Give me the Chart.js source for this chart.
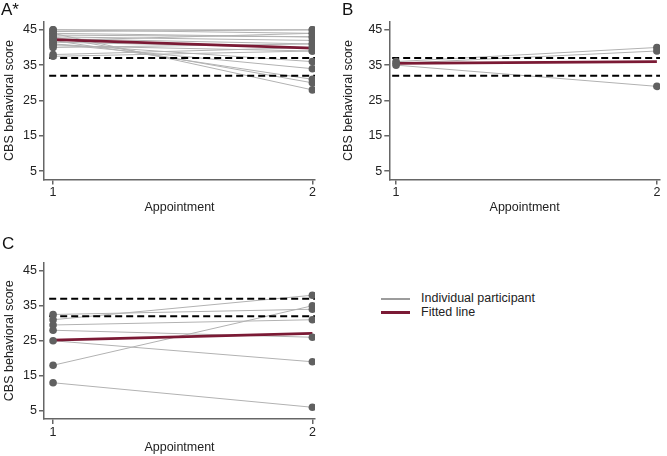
<!DOCTYPE html>
<html>
<head>
<meta charset="utf-8">
<script src="https://cdn.jsdelivr.net/npm/chart.js@4"></script>
<style>
  body { margin: 0; background: #fff; font-family: "Liberation Sans", Arial, sans-serif; }
  #wrap { position: relative; width: 667px; height: 456px; overflow: hidden; }
  canvas { position: absolute; }
  .lbl { position: absolute; font-size: 17px; color: #111; }
  .leg { position: absolute; font-size: 12.5px; color: #222; line-height: 15px; }
  .swatch { position: absolute; }
</style>
</head>
<body>
<div id="wrap">
  <canvas id="chartA" width="330" height="225" style="left:0;top:0"></canvas>
  <canvas id="chartB" width="337" height="225" style="left:330px;top:0"></canvas>
  <canvas id="chartC" width="330" height="231" style="left:0;top:225px"></canvas>
  <div class="lbl" style="left:1px;top:0px">A*</div>
  <div class="lbl" style="left:342px;top:0px">B</div>
  <div class="lbl" style="left:2px;top:234px">C</div>
  <div class="swatch" style="left:381px;top:298px;width:29px;height:1.5px;background:#9c9c9c"></div>
  <div class="leg" style="left:421px;top:291px">Individual participant</div>
  <div class="swatch" style="left:381px;top:311px;width:29px;height:3px;background:#7b1a35"></div>
  <div class="leg" style="left:421px;top:305px">Fitted line</div>
</div>
<script>
// appointments and axis ticks
const appointments = [1, 2];
const yTicks = [5, 15, 25, 35, 45];
const cutoffs = [37, 32]; // dashed reference lines

// panel A: score at appointment 1 and 2 per participant
const aFirst  = [45, 45, 44.5, 44, 44, 43.5, 43, 43, 42.5, 42, 42, 41.5, 41, 41, 40.5, 40, 38, 37.5];
const aSecond = [45, 44, 45, 43, 28, 43, 42, 30, 41, 44, 31, 40, 36, 34, 39, 41, 40, 39];
const aFitted = [42.2, 39.8];

// panel B
const bFirst  = [36, 35.5, 35];
const bSecond = [40, 39, 29];
const bFitted = [35.5, 36.0];

// panel C
const cFirst  = [31, 32.5, 18, 29.5, 28, 25, 13];
const cSecond = [38, 34, 35, 31, 26, 19, 6];
const cFitted = [25.2, 27.1];

const AXIS = '#666';
const FONT = '"Liberation Sans", Arial, sans-serif';

function buildDatasets(first, second, fitted, xStart, xEnd) {
    const sets = [];
    // participant lines
    first.forEach((v, i) => {
        sets.push({
            data: [{ x: appointments[0], y: v }, { x: appointments[1], y: second[i] }],
            borderColor: '#b2b2b2', borderWidth: 1, pointRadius: 0, order: 4
        });
    });
    cutoffs.forEach(c => {
        sets.push({
            data: [{ x: xStart, y: c }, { x: xEnd, y: c }],
            borderColor: '#000', borderWidth: 2, borderDash: [7, 4], pointRadius: 0, order: 3
        });
    });
    sets.push({
        data: [{ x: appointments[0], y: fitted[0] }, { x: appointments[1], y: fitted[1] }],
        borderColor: '#7b1a35', borderWidth: 2.8, pointRadius: 0, order: 2
    });
    // points on top
    const pts = [];
    first.forEach((v, i) => {
        pts.push({ x: appointments[0], y: v });
        pts.push({ x: appointments[1], y: second[i] });
    });
    sets.push({
        data: pts, showLine: false, pointRadius: 3.8, pointBackgroundColor: '#606060',
        pointBorderWidth: 0, order: 0
    });
    return sets;
}

function makeChart(id, first, second, fitted, cfg) {
    return new Chart(document.getElementById(id), {
        type: 'line',
        data: { datasets: buildDatasets(first, second, fitted, cfg.dashStart, cfg.xMax) },
        options: {
            responsive: false,
            animation: false,
            devicePixelRatio: 1,
            layout: { padding: { top: cfg.padTop, right: cfg.padRight, left: 0, bottom: 0 } },
            plugins: { legend: { display: false }, tooltip: { enabled: false } },
            scales: {
                x: {
                    type: 'linear', min: cfg.xMin, max: cfg.xMax,
                    afterBuildTicks: s => { s.ticks = appointments.map(v => ({ value: v })); },
                    afterFit: s => { s.height = cfg.xHeight; },
                    grid: { display: true, drawOnChartArea: false, drawTicks: true, tickLength: 5, color: AXIS, lineWidth: 1.5 },
                    border: { display: true, color: AXIS, width: 1.5 },
                    ticks: { color: '#222', font: { family: FONT, size: 12.5 }, padding: 1, maxRotation: 0 },
                    title: { display: true, text: 'Appointment', color: '#222', font: { family: FONT, size: 12.5 },
                             padding: { top: 0, bottom: cfg.xTitlePad } }
                },
                y: {
                    type: 'linear', min: 2.65, max: 47.35,
                    afterBuildTicks: s => { s.ticks = yTicks.map(v => ({ value: v })); },
                    afterFit: s => { s.width = cfg.yWidth; },
                    grid: { display: true, drawOnChartArea: false, drawTicks: true, tickLength: 5, color: AXIS, lineWidth: 1.5 },
                    border: { display: true, color: AXIS, width: 1.5 },
                    ticks: { color: '#222', font: { family: FONT, size: 12.5 }, padding: 2 },
                    title: { display: true, text: 'CBS behavioral score', color: '#222', font: { family: FONT, size: 12.5 },
                             padding: { top: cfg.yTitlePad, bottom: 0 } }
                }
            }
        }
    });
}

makeChart('chartA', aFirst, aSecond, aFitted, {
    xMin: 0.965, xMax: 2.01, dashStart: 0.985, padTop: 21.5, padRight: 15,
    xHeight: 45.5, yWidth: 44, xTitlePad: 9.5, yTitlePad: 2.5
});
makeChart('chartB', bFirst, bSecond, bFitted, {
    xMin: 0.974, xMax: 2.012, dashStart: 0.985, padTop: 21.5, padRight: 7,
    xHeight: 45.5, yWidth: 59.3, xTitlePad: 9.5, yTitlePad: 11.5
});
makeChart('chartC', cFirst, cSecond, cFitted, {
    xMin: 0.965, xMax: 2.01, dashStart: 0.985, padTop: 37.5, padRight: 15,
    xHeight: 37, yWidth: 44, xTitlePad: 0.5, yTitlePad: 2.5
});
</script>
</body>
</html>
